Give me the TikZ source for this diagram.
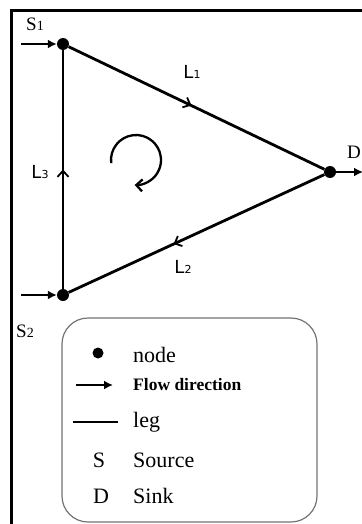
\documentclass[tikz,border=0pt]{standalone}
\usepackage{fontspec}
\setmainfont{Liberation Serif}
\setsansfont{DejaVu Sans}
\usetikzlibrary{arrows.meta,decorations.markings}
\begin{document}
\begin{tikzpicture}[x=1pt,y=-1pt,
  legline/.style={line width=2.8pt},
  junction/.style={circle,fill=black,inner sep=0pt,minimum size=12pt},
  flowarrow/.style={line width=2.4pt,-{Latex[length=9pt,width=9pt]}},
  midbarb/.style={postaction={decorate},decoration={markings,
      mark=at position #1 with {\arrow{Straight Barb[length=6pt,width=11pt,line width=1.8pt]}}}},
  hand/.style={font=\sffamily\fontsize{18}{18}\selectfont},
  srclabel/.style={font=\fontsize{19}{19}\selectfont,inner sep=0pt},
  legtext/.style={anchor=base west,inner sep=0pt,font=\fontsize{22}{22}\selectfont},
  legendbox/.style={draw=black!55,line width=1.2pt,rounded corners=26pt}]
\useasboundingbox (0,0) rectangle (361,524);
% frame
\draw[line width=3pt] (11,530) -- (11,11) -- (370,11);
% nodes
\node[junction] (s1) at (63,44) {};
\node[junction] (s2) at (63,295) {};
\node[junction] (d) at (330,172) {};
\coordinate (in1) at (21,44);
\coordinate (in2) at (21,295);
\coordinate (out) at (363,172);
% legs
\draw[legline,midbarb=0.48] (s1) -- (d);
\draw[legline,midbarb=0.59] (d) -- (s2);
\draw[legline,midbarb=0.5] (s2) -- (s1);
% flows
\draw[flowarrow] (in1) -- (s1);
\draw[flowarrow] (in2) -- (s2);
\draw[flowarrow] (d) -- (out);
% labels
\node[srclabel] (ls1) at (35,24) {S{\fontsize{14}{14}\selectfont 1}};
\node[srclabel] (ls2) at (25,331) {S{\fontsize{14}{14}\selectfont 2}};
\node[srclabel,anchor=east] (ld) at (361,152) {D};
\node[hand] (l1) at (192,72) {L{\fontsize{11}{11}\selectfont 1}};
\node[hand] (l2) at (183,267) {L{\fontsize{11}{11}\selectfont 2}};
\node[hand] (l3) at (40,172) {L{\fontsize{11}{11}\selectfont 3}};
% circulation
\draw[line width=2.3pt,-{Straight Barb[length=6pt,width=12pt]}]
  (136,160) ++(173:25) arc[start angle=173,end angle=453,radius=25];
% legend
\draw[legendbox] (62,318) rectangle (317,522);
\node[junction,minimum size=11pt] (ldot) at (98,353) {};
\coordinate (la1) at (76,385);
\coordinate (la2) at (113,385);
\draw[flowarrow,line width=2.2pt] (la1) -- (la2);
\coordinate (ll1) at (73,422);
\coordinate (ll2) at (118,422);
\draw[legline,line width=2.2pt] (ll1) -- (ll2);
\node[legtext] (tnode) at (133,362) {node};
\node[legtext,font=\bfseries\fontsize{17.5}{17.5}\selectfont] (tflow) at (133,390) {Flow direction};
\node[legtext] (tleg) at (133,427) {leg};
\node[legtext,anchor=base] (ts) at (99,467) {S};
\node[legtext] (tsrc) at (133,467) {Source};
\node[legtext,anchor=base] (td) at (101,503) {D};
\node[legtext] (tsink) at (133,503) {Sink};
\end{tikzpicture}
\end{document}
